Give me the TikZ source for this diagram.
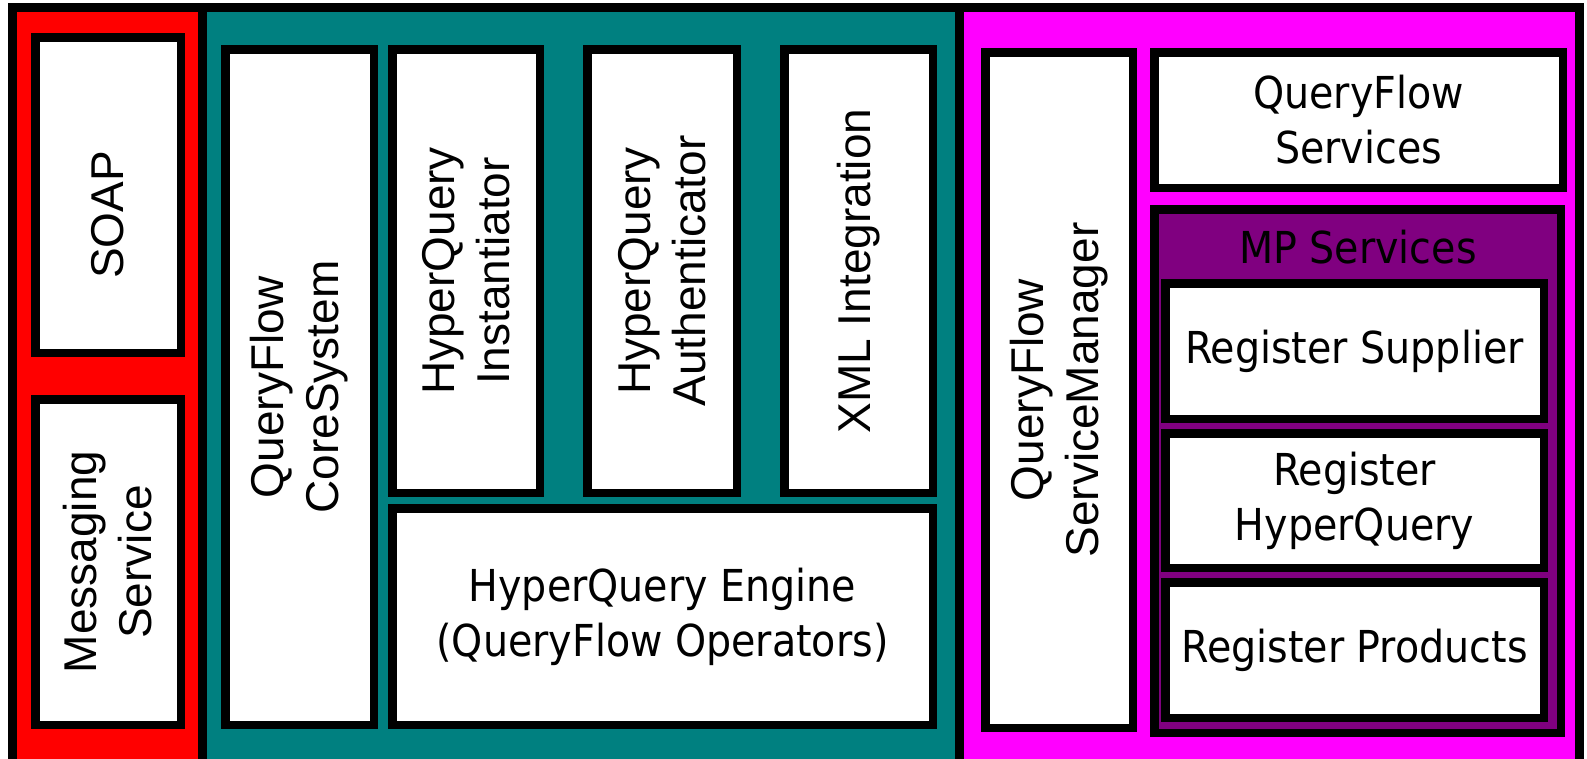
\documentclass[tikz,border=0pt]{standalone}
\usepackage{fontspec}
\usepackage{tikz}
\usetikzlibrary{shapes}
\newfontfamily\horfont{DejaVu Sans Condensed}
\newfontfamily\verfont{Liberation Sans}
\definecolor{redpanel}{HTML}{FF0000}
\definecolor{tealpanel}{HTML}{008080}
\definecolor{magpanel}{HTML}{FF00FF}
\definecolor{mppurple}{HTML}{800080}
\tikzset{
  panel/.style={draw, line width=9bp, inner sep=0pt},
  hbox/.style={draw, fill=white, line width=8.5bp, inner sep=0pt, align=center,
    font=\horfont\fontsize{44bp}{55bp}\selectfont},
  vbox/.style={hbox, rotate=90, font=\verfont\fontsize{46bp}{55bp}\selectfont},
}

\begin{document}
\begin{tikzpicture}
\useasboundingbox (0bp,0bp) rectangle (1587bp,-759bp);

\node (Red) at (107.25bp,-391bp)[panel, fill=redpanel, minimum width=189.5bp, minimum height=768bp] {};
\node (Teal) at (580.5bp,-391bp)[panel, fill=tealpanel, minimum width=757bp, minimum height=768bp] {};
\node (Mag) at (1269.25bp,-391bp)[panel, fill=magpanel, minimum width=620.5bp, minimum height=768bp] {};

\node (SOAP) at (108bp,-195bp)[vbox, minimum width=315.5bp, minimum height=145.5bp] {SOAP\hspace*{40bp}};
\node (Msg) at (108bp,-562bp)[vbox, minimum width=325.5bp, minimum height=145.5bp] {Messaging\\Service};

\node (Core) at (299.5bp,-387bp)[vbox, minimum width=675.5bp, minimum height=148.5bp] {QueryFlow\\CoreSystem};
\node (Inst) at (466bp,-271bp)[vbox, minimum width=443.5bp, minimum height=147.5bp] {HyperQuery\\Instantiator};
\node (Auth) at (662bp,-271bp)[vbox, minimum width=443.5bp, minimum height=149.5bp] {HyperQuery\\Authenticator};
\node (XML) at (858.5bp,-271bp)[vbox, minimum width=443.5bp, minimum height=148.5bp] {XML Integration};
\node (Eng) at (662.5bp,-616.5bp)[hbox, minimum width=540.5bp, minimum height=216.5bp] {HyperQuery Engine\\(QueryFlow Operators)};

\node (SvcMgr) at (1059bp,-390bp)[vbox, minimum width=675.5bp, minimum height=147.5bp] {QueryFlow\\ServiceManager};
\node (QFSvc) at (1358.5bp,-120bp)[hbox, minimum width=408.5bp, minimum height=135.5bp] {QueryFlow\\Services};
\node (MP) at (1357.5bp,-471bp)[hbox, fill=mppurple, minimum width=406.5bp, minimum height=523.5bp] {};
\node (MPlabel) at (1358bp,-247bp)[font=\horfont\fontsize{44bp}{55bp}\selectfont, inner sep=0pt] {MP Services};
\node (RegSup) at (1354.5bp,-351bp)[hbox, minimum width=378.5bp, minimum height=135.5bp] {Register Supplier};
\node (RegHQ) at (1354.5bp,-500.5bp)[hbox, minimum width=378.5bp, minimum height=134.5bp] {Register\\HyperQuery};
\node (RegProd) at (1354.5bp,-650bp)[hbox, minimum width=378.5bp, minimum height=135.5bp] {Register Products};
\end{tikzpicture}
\end{document}
